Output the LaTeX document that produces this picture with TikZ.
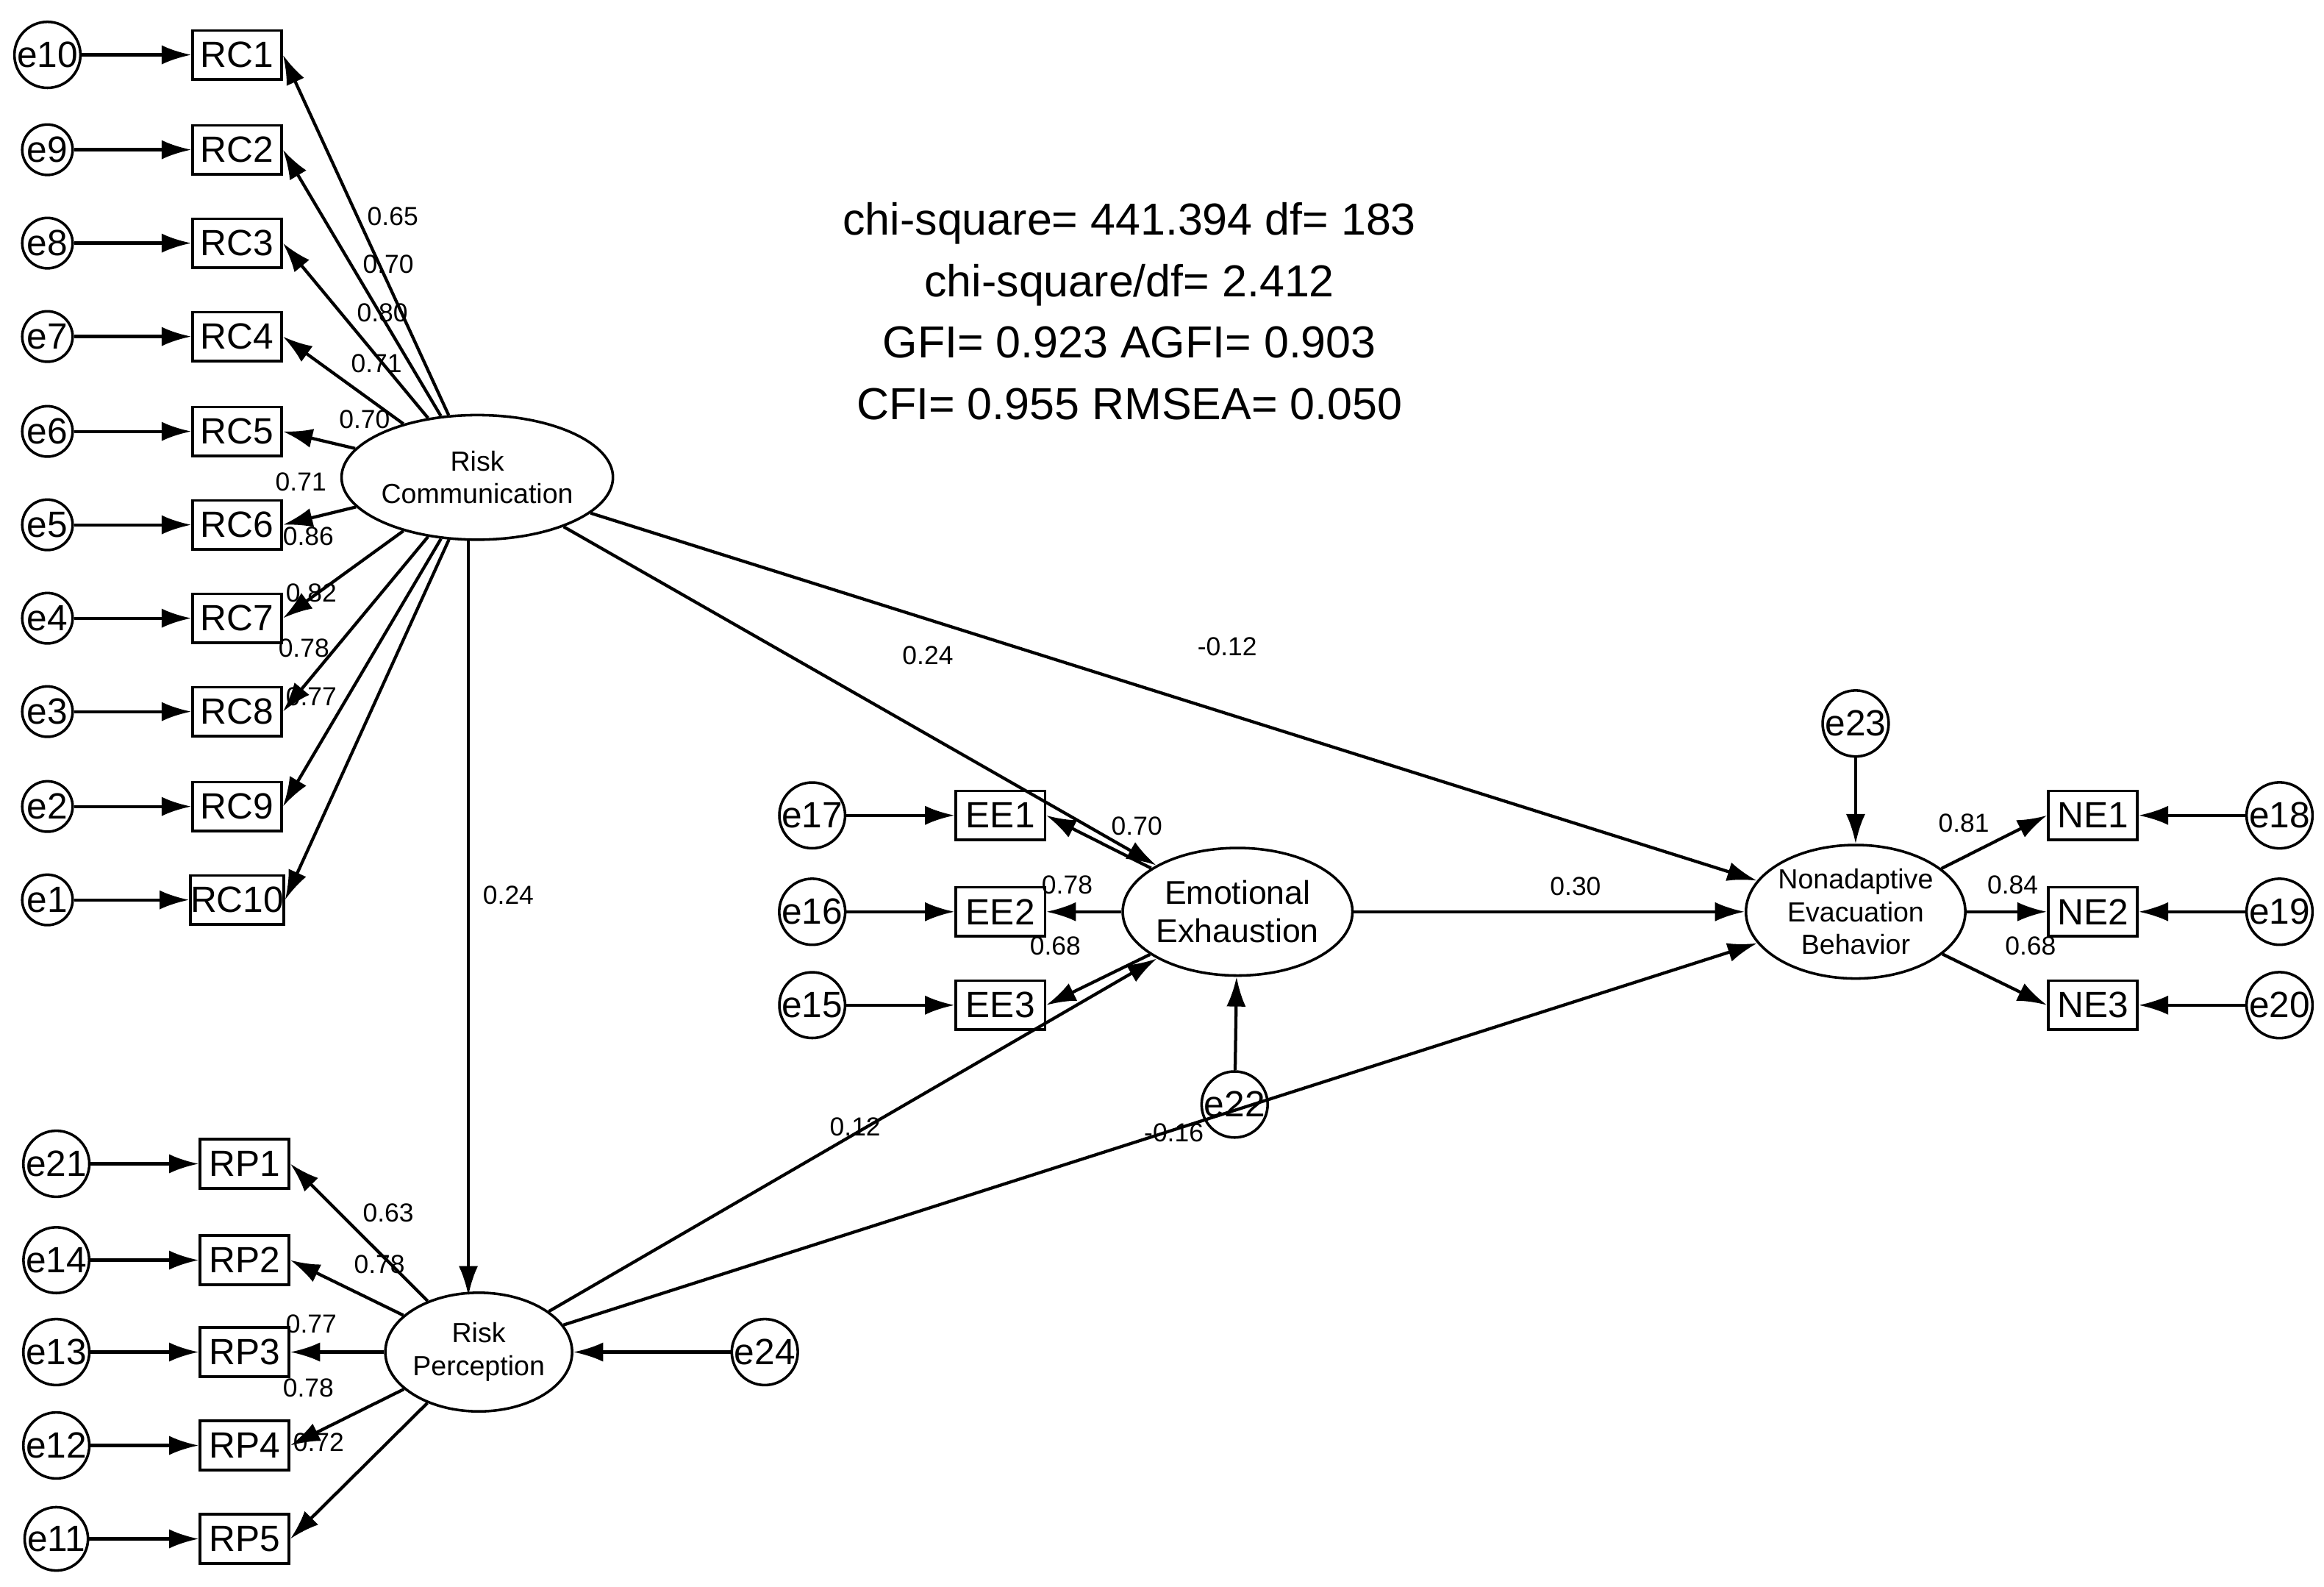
\documentclass[tikz,border=0pt]{standalone}
\usepackage{fontspec}
\setmainfont{Liberation Sans}
\usetikzlibrary{arrows.meta,shapes.geometric}
\begin{document}
\begin{tikzpicture}[x=0.01cm,y=-0.01cm,
 box/.style={draw,line width=0.5pt,minimum width=0.6cm,minimum height=0.33cm,inner sep=0pt,font=\fontsize{7}{8}\selectfont},
 err/.style={draw,circle,line width=0.5pt,minimum size=0.34cm,inner sep=0pt,font=\fontsize{7}{8}\selectfont},
 lat/.style={draw,ellipse,line width=0.5pt,inner sep=0pt,font=\fontsize{5.3}{6.3}\selectfont,align=center},
 ar/.style={line width=0.6pt,-{Latex[length=0.2cm,width=0.13cm]}},
 lab/.style={font=\fontsize{5}{6}\selectfont,inner sep=0pt}]
\useasboundingbox (0,0) rectangle (1568,1070);
% stats
\node[font=\fontsize{8.6}{11.8}\selectfont,align=center] (stats) at (762,210) {chi-square= 441.394 df= 183\\chi-square/df= 2.412\\GFI= 0.923 AGFI= 0.903\\CFI= 0.955 RMSEA= 0.050};
% latent
\node[lat,minimum width=1.32cm,minimum height=0.84cm] (RC) at (322,322) {Risk\\Communication};
\node[lat,minimum width=1.2cm,minimum height=0.8cm] (RP) at (323,912) {Risk\\Perception};
\node[lat,minimum width=1.24cm,minimum height=0.86cm,font=\fontsize{6.3}{7.3}\selectfont] (EE) at (835,615) {Emotional\\Exhaustion};
\node[lat,minimum width=1.24cm,minimum height=0.9cm] (NE) at (1252,615) {Nonadaptive\\Evacuation\\Behavior};
\coordinate (rcb) at (316,363);
\coordinate (rpt) at (316,874);
% RC indicators
\foreach \i/\e/\y in {1/10/37,2/9/101,3/8/164,4/7/227,5/6/291,6/5/354,7/4/417,8/3/480,9/2/544,10/1/607}{
 \node[box] (RC\i) at (160,\y) {RC\i};
 \node[err] (e\e) at (32,\y) {e\e};
 \draw[ar] (e\e) -- (RC\i);
 \draw[ar] (RC) -- (RC\i.east);
}
\foreach \t/\x/\y in {0.65/265/146,0.70/262/178,0.80/258/211,0.71/254/245,0.70/246/283,0.71/203/325,0.86/208/362,0.82/210/400,0.78/205/437,0.77/210/470}
 \node[lab] at (\x,\y) {\t};
% RP indicators
\foreach \i/\e/\y in {1/21/785,2/14/850,3/13/912,4/12/975,5/11/1038}{
 \node[box] (RP\i) at (165,\y) {RP\i};
 \node[err] (e\e) at (38,\y) {e\e};
 \draw[ar] (e\e) -- (RP\i);
 \draw[ar] (RP) -- (RP\i.east);
}
\foreach \t/\x/\y in {0.63/262/818,0.78/256/853,0.77/210/893,0.78/208/936,0.72/215/973}
 \node[lab] at (\x,\y) {\t};
\node[err] (e24) at (516,912) {e24};
\draw[ar] (e24) -- (RP);
% EE indicators
\foreach \i/\e/\y in {1/17/550,2/16/615,3/15/678}{
 \node[box] (EE\i) at (675,\y) {EE\i};
 \node[err] (e\e) at (548,\y) {e\e};
 \draw[ar] (e\e) -- (EE\i);
 \draw[ar] (EE) -- (EE\i.east);
}
\node[lab] at (767,557) {0.70};
\node[lab] at (720,597) {0.78};
\node[lab] at (712,638) {0.68};
\node[err] (e22) at (833,745) {e22};
\draw[ar] (e22) -- (EE);
% NE indicators
\foreach \i/\e/\y in {1/18/550,2/19/615,3/20/678}{
 \node[box] (NE\i) at (1412,\y) {NE\i};
 \node[err] (e\e) at (1538,\y) {e\e};
 \draw[ar] (e\e) -- (NE\i);
 \draw[ar] (NE) -- (NE\i.west);
}
\node[lab] at (1325,555) {0.81};
\node[lab] at (1358,597) {0.84};
\node[lab] at (1370,638) {0.68};
\node[err] (e23) at (1252,488) {e23};
\draw[ar] (e23) -- (NE);
% structural
\draw[ar] (rcb) -- (rpt);
\node[lab] at (343,604) {0.24};
\draw[ar] (RC) -- (EE);
\node[lab] at (626,442) {0.24};
\draw[ar] (RC) -- (NE);
\node[lab] at (828,436) {-0.12};
\draw[ar] (EE) -- (NE);
\node[lab] at (1063,598) {0.30};
\draw[ar] (RP) -- (EE);
\node[lab] at (577,760) {0.12};
\draw[ar] (RP) -- (NE);
\node[lab] at (792,764) {-0.16};
\end{tikzpicture}
\end{document}
